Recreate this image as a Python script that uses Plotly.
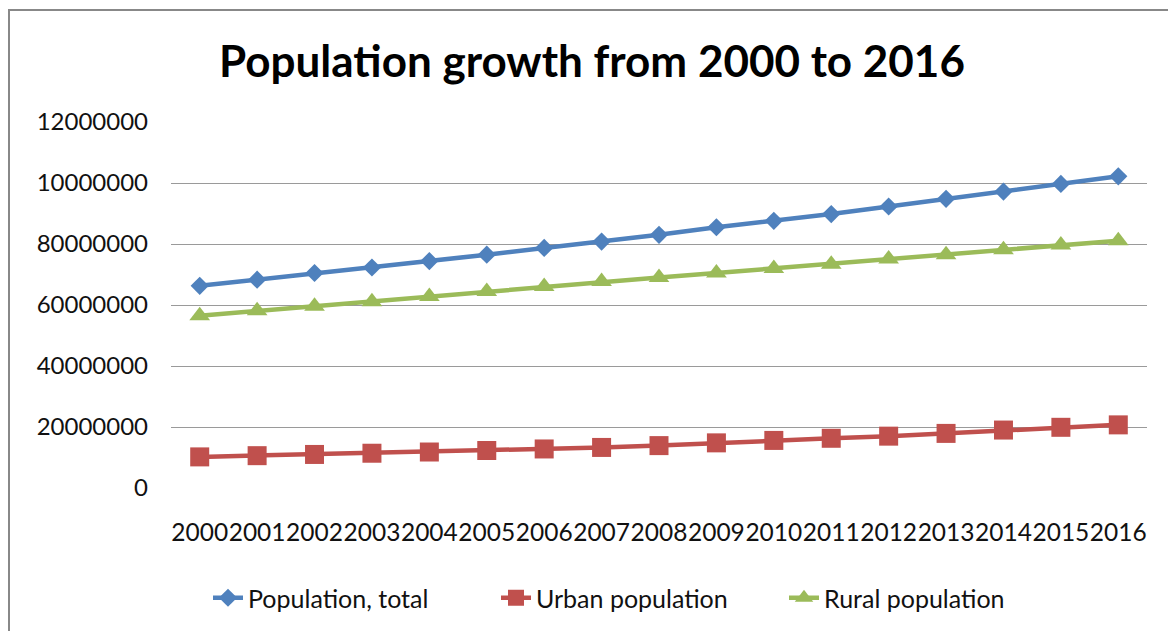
import plotly.graph_objects as go

years = [str(y) for y in range(2000, 2017)]
total = [66.3e6, 68.3e6, 70.5e6, 72.3e6, 74.4e6, 76.5e6, 78.7e6, 80.8e6, 83.0e6,
         85.5e6, 87.6e6, 89.8e6, 92.3e6, 94.8e6, 97.2e6, 99.7e6, 102.2e6]
urban = [10.2e6, 10.6e6, 11.0e6, 11.4e6, 11.8e6, 12.3e6, 12.8e6, 13.3e6, 13.9e6,
         14.8e6, 15.6e6, 16.3e6, 17.0e6, 17.9e6, 19.0e6, 19.9e6, 20.7e6]
rural = [56.5e6, 58.1e6, 59.6e6, 61.1e6, 62.8e6, 64.4e6, 66.1e6, 67.7e6, 69.0e6,
         70.5e6, 72.0e6, 73.4e6, 75.1e6, 76.5e6, 78.1e6, 79.7e6, 81.1e6]
y_tickvals = [0, 20e6, 40e6, 60e6, 80e6, 100e6, 120e6]
y_ticktext = ["0", "20000000", "40000000", "60000000", "80000000", "10000000", "12000000"]

FONT = "Lato"
W, H = 1168, 631
L, R, T, B = 171, 21, 122, 143
pw, ph = W - L - R, H - T - B

fig = go.Figure()
fig.add_trace(go.Scatter(x=years, y=total, name="Population, total", mode="lines+markers",
                         line=dict(color="#4F81BD", width=4.5),
                         marker=dict(symbol="diamond", size=14, color="#4F81BD")))
fig.add_trace(go.Scatter(x=years, y=urban, name="Urban population", mode="lines+markers",
                         line=dict(color="#C0504D", width=4.5),
                         marker=dict(symbol="square", size=19, color="#C0504D")))
fig.add_trace(go.Scatter(x=years, y=rural, name="Rural population", mode="lines+markers",
                         line=dict(color="#9BBB59", width=4.5),
                         marker=dict(symbol="triangle-up", size=18, color="#9BBB59")))

def px_x(p):
    return (p - L) / pw

def px_y(p):
    return (H - B - p) / ph

fig.update_layout(
    width=W, height=H,
    margin=dict(l=L, r=R, t=T, b=B, autoexpand=False),
    paper_bgcolor="white", plot_bgcolor="white",
    font=dict(family=FONT, size=23, color="#111111"),
    title=dict(text="<b>Population growth from 2000 to 2016</b>",
               font=dict(family=FONT, size=44, color="#000000"),
               xref="container", x=592 / W, xanchor="center",
               yref="container", y=1 - 62 / H, yanchor="middle"),
    showlegend=True,
    legend=dict(orientation="h", x=px_x(208), xanchor="left",
                y=px_y(598), yanchor="middle",
                font=dict(family=FONT, size=25, color="#111111"),
                entrywidth=243, entrywidthmode="pixels",
                bgcolor="rgba(0,0,0,0)"),
    xaxis=dict(type="category", range=[-0.5, 16.5], showgrid=False, showline=False,
               zeroline=False, ticks="", tickangle=0, ticklabelstandoff=27,
               tickfont=dict(family=FONT, size=24.5, color="#111111")),
    yaxis=dict(range=[0, 120e6], tickvals=y_tickvals, ticktext=y_ticktext,
               showgrid=True, gridcolor="#9a9a9a", gridwidth=1,
               zeroline=False, showline=False, ticks="", ticklabelstandoff=22,
               tickfont=dict(family=FONT, size=24, color="#111111")),
    shapes=[dict(type="rect", xref="paper", yref="paper",
                 x0=px_x(9), x1=px_x(1190), y0=px_y(660), y1=px_y(10),
                 line=dict(color="#888888", width=2), fillcolor="rgba(0,0,0,0)",
                 layer="below")],
)

fig.write_html("out.html")
